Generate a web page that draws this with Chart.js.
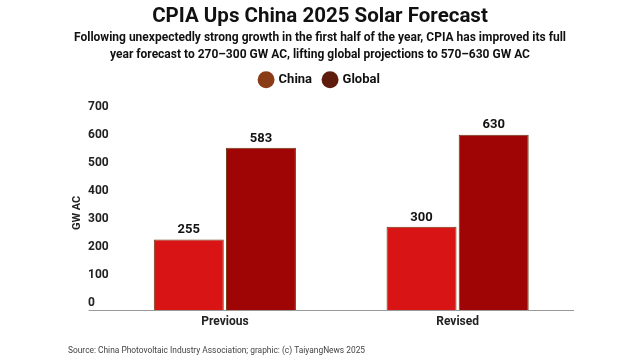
<!DOCTYPE html>
<html>
<head>
<meta charset="utf-8">
<script src="https://cdn.jsdelivr.net/npm/chart.js@4"></script>
<style>
  html, body { margin: 0; padding: 0; background: #ffffff; }
  #wrap { width: 640px; height: 360px; position: relative; }
</style>
</head>
<body>
<div id="wrap"><canvas id="c" width="640" height="360"></canvas></div>
<script>
const categories = ["Previous", "Revised"];
const chinaValues = [255, 300];
const globalValues = [583, 630];
const seriesNames = ["China", "Global"];
const yTicks = [0, 100, 200, 300, 400, 500, 600, 700];
const titleText = "CPIA Ups China 2025 Solar Forecast";
const subtitleLines = [
  "Following unexpectedly strong growth in the first half of the year, CPIA has improved its full",
  "year forecast to 270\u2013300 GW AC, lifting global projections to 570\u2013630 GW AC"
];
const yAxisTitle = "GW AC";
const sourceText = "Source: China Photovoltaic Industry Association; graphic: (c) TaiyangNews 2025";

const FONT = "Roboto, 'Noto Sans', sans-serif";
const barColors = ["#d81414", "#a00505"];
const legendColors = ["#8a3c16", "#5f1c0c"];
const borderCol = "#6e3a14";

const valueLabels = {
  id: "valueLabels",
  afterDatasetsDraw(chart) {
    const ctx = chart.ctx;
    ctx.save();
    ctx.font = "bold 13px " + FONT;
    ctx.fillStyle = "#111";
    ctx.textAlign = "center";
    ctx.textBaseline = "bottom";
    chart.data.datasets.forEach((ds, i) => {
      const meta = chart.getDatasetMeta(i);
      meta.data.forEach((bar, j) => {
        ctx.fillText(String(ds.data[j]), bar.x, bar.y - 3);
      });
    });
    ctx.restore();
  }
};

const footer = {
  id: "footer",
  afterDraw(chart) {
    const ctx = chart.ctx;
    ctx.save();
    ctx.font = "8.4px " + FONT;
    ctx.fillStyle = "#444";
    ctx.textAlign = "left";
    ctx.textBaseline = "middle";
    ctx.fillText(sourceText, 68, 351);
    ctx.restore();
  }
};

const legendSpace = {
  id: "legendSpace",
  beforeInit(chart) {
    const orig = chart.legend.fit;
    chart.legend.fit = function () {
      orig.call(this);
      this.height += 19;
    };
  }
};

new Chart(document.getElementById("c"), {
  type: "bar",
  data: {
    labels: categories,
    datasets: [
      { label: seriesNames[0], data: chinaValues, backgroundColor: barColors[0], borderColor: borderCol, borderWidth: 1 },
      { label: seriesNames[1], data: globalValues, backgroundColor: barColors[1], borderColor: borderCol, borderWidth: 1 }
    ]
  },
  options: {
    responsive: false,
    animation: false,
    devicePixelRatio: 1,
    layout: { padding: { left: 66, right: 66, top: 0, bottom: 27 } },
    datasets: { bar: { categoryPercentage: 0.62, barPercentage: 0.97 } },
    plugins: {
      title: {
        display: true, text: titleText, color: "#111",
        font: { family: FONT, size: 20.5, weight: "bold" },
        padding: { top: 5, bottom: 0 }
      },
      subtitle: {
        display: true, text: subtitleLines, color: "#111",
        font: { family: FONT, size: 12, weight: "bold", lineHeight: 1.4 },
        padding: { top: 0, bottom: -2 }
      },
      legend: {
        display: true, position: "top",
        labels: {
          usePointStyle: true, pointStyle: "circle", boxWidth: 12, boxHeight: 12,
          padding: 12, color: "#111",
          font: { family: FONT, size: 13, weight: "bold" },
          generateLabels(chart) {
            return chart.data.datasets.map((ds, i) => ({
              text: ds.label, fillStyle: legendColors[i], strokeStyle: legendColors[i],
              lineWidth: 0, pointStyle: "circle", datasetIndex: i, hidden: false, fontColor: "#111"
            }));
          }
        }
      },
      tooltip: { enabled: false }
    },
    scales: {
      x: {
        grid: { display: false, drawTicks: false },
        border: { display: false },
        ticks: { color: "#222", font: { family: FONT, size: 12, weight: "bold" }, padding: 4 }
      },
      y: {
        min: yTicks[0], max: yTicks[yTicks.length - 1],
        afterBuildTicks(scale) { scale.ticks = yTicks.map(v => ({ value: v })); },
        afterFit(scale) { scale.width = 42.5; },
        border: { display: false },
        grid: {
          drawTicks: true, tickLength: 20,
          color: (c) => (c.tick && c.tick.value === 0 ? "#9a9a9a" : "rgba(0,0,0,0)"),
          lineWidth: 1
        },
        ticks: {
          mirror: true, labelOffset: -8, padding: -20.5,
          color: "#222", font: { family: FONT, size: 12, weight: "bold" }
        },
        title: {
          display: true, text: yAxisTitle, color: "#222",
          font: { family: FONT, size: 11, weight: "bold" },
          padding: { top: 4.4, bottom: 0 }
        }
      }
    }
  },
  plugins: [valueLabels, footer, legendSpace]
});
</script>
</body>
</html>
